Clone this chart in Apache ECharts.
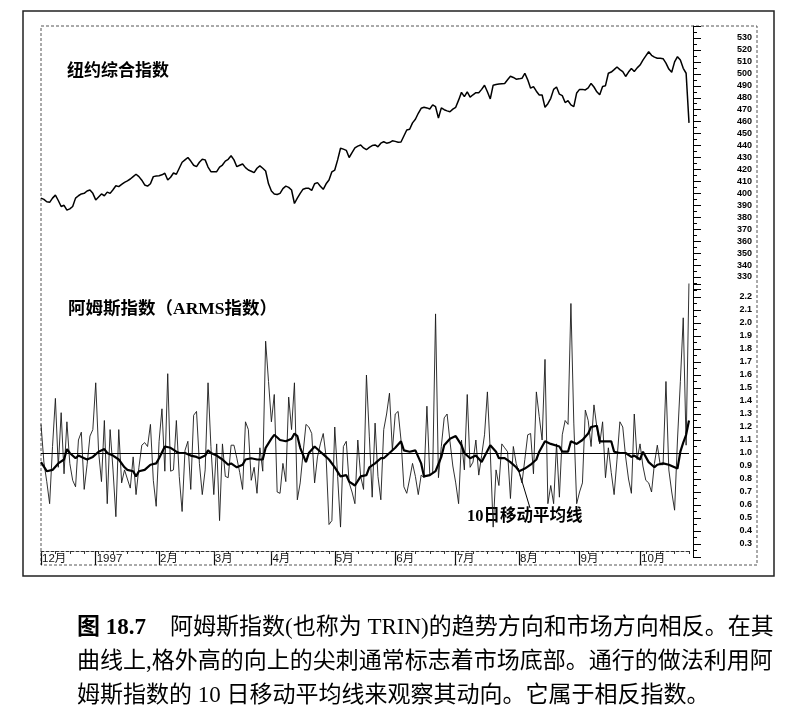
<!DOCTYPE html>
<html><head><meta charset="utf-8">
<script src="https://cdn.jsdelivr.net/npm/echarts@6/dist/echarts.min.js"></script>
<style>html,body{margin:0;padding:0;background:#fff;}#c{width:791px;height:721px;}</style>
</head><body><div id="c"></div>
<script>
// ---- data ----
const monthLabels = ['12月','1997','2月','3月','4月','5月','6月','7月','8月','9月','10月'];
const tradingDays = [19,22,19,20,22,21,21,22,21,21,18];

const nyseComposite = [
396,395,393,392.5,396,398.5,394,389,390,386,387,389,396,398,399.5,400,402,402.8,400,394.5,
397,399.5,398,401,400,403,406.4,405.6,407.5,409.2,410.5,412,414,416,414,411,407,406,408,414,
414.5,414.8,415.5,416.8,411.2,413.5,417,416,421,426,428,430,427,423.5,422.3,426,428.5,428,422,418.1,
418,418.1,422,423.7,427,428.5,431.5,428,422.3,423.5,424.6,421.5,419.5,418.5,417.3,421,423,421,418.7,408,
402,399.5,399,400,404,406,405,402.8,391.5,396,400,403.5,404.2,404.2,402.5,408,409,406,403.4,408,
411.2,418,419.5,428,437.7,437,436,430,434,438,439.5,440.5,438,436.5,438.5,440,440.5,439,442,443.2,
442,442.5,444,443.5,442.8,443,448,453,453.6,459,462,467,471.2,472,471.5,470.6,474,472.5,463,471.5,
470,469,468.3,470.5,472,478,484.5,481,485,480.5,482.5,484.2,484.2,487,490.5,485,479,490.5,491,491.5,
491.8,492,495,498,497,495.5,495.8,496.3,500.5,495,488,489.3,485.5,482.3,482.3,472,475,479.5,487,489,
483,481.8,476,477.5,474,472.5,484,487,487,486.5,488.2,492,489,485,482.5,489.5,490.1,500.5,501.5,503.5,
505.8,503.5,501.8,497.8,501.5,504.5,502,505,507.4,511.5,515,518.5,515.5,514,513,513,512.7,509,504,501.3,
510,514.4,511.6,504.6,500.5,459
];

const armsIndex = [
1.22,0.93,0.78,0.61,1.05,1.42,0.89,1.31,0.84,1.24,0.92,0.79,0.74,1.10,1.16,0.72,0.91,1.13,1.18,1.54,
1.01,0.78,1.25,0.61,1.18,0.87,0.51,1.18,0.77,0.87,0.80,0.73,0.97,0.68,0.89,1.06,1.08,1.05,1.22,0.79,
0.59,1.09,1.34,0.86,1.61,0.86,0.87,1.25,0.82,0.55,1.02,1.09,0.72,1.29,1.32,0.92,0.68,0.87,1.54,1.05,
0.68,1.07,0.48,1.07,0.82,0.81,1.06,1.06,0.96,0.85,0.72,1.24,1.18,0.79,0.89,0.69,1.04,0.86,1.86,1.55,
1.24,1.45,0.70,0.69,0.92,0.78,1.43,1.18,1.54,0.64,0.77,1.00,1.22,1.20,1.15,0.77,0.97,1.07,1.15,0.97,
0.45,0.48,1.20,0.82,0.43,1.05,1.09,0.77,0.70,0.61,1.10,0.82,0.72,1.60,1.13,0.66,1.23,0.82,0.64,1.18,
1.30,1.46,1.02,1.30,1.32,1.10,0.74,0.69,0.80,0.92,0.82,0.68,0.83,0.81,1.36,0.83,0.85,2.07,0.81,1.05,
1.27,1.30,1.09,0.90,0.77,0.61,1.10,0.87,1.45,0.89,0.93,1.10,0.83,0.98,1.14,1.47,1.01,0.43,0.87,0.75,
1.07,1.04,1.01,0.65,1.05,0.92,0.85,0.77,0.95,1.14,1.15,0.84,1.47,1.28,1.10,1.72,0.61,0.75,0.61,1.07,
0.66,1.14,1.25,1.22,2.15,1.23,0.61,0.70,0.77,1.33,1.25,1.05,1.37,1.20,1.07,1.24,0.81,1.04,0.85,0.68,
0.95,1.24,1.20,0.97,0.80,0.69,1.30,0.95,1.07,0.90,0.79,0.77,0.70,0.92,1.06,0.91,0.91,1.55,0.87,0.70,
0.56,1.10,1.55,2.04,1.06,2.33
];

// 10-day moving average: [day index, value]
const armsMA10 = [
[0,0.93],[2,0.86],[4,0.87],[6,0.92],[8,0.95],[9,1.03],[10,1.0],[12,0.96],[13,0.98],[15,0.96],[16,0.95],[18,0.97],
[20,1.01],[22,1.03],[23,1.0],[25,0.98],[27,0.95],[29,0.89],[30,0.87],[32,0.86],[33,0.82],[34,0.86],[36,0.87],[38,0.91],
[40,0.92],[41,0.96],[43,1.05],[45,1.04],[47,1.01],[48,1.0],[50,1.0],[52,0.98],[54,0.97],[55,0.96],[57,0.98],[58,1.02],
[59,1.0],[61,0.98],[63,0.95],[65,0.91],[66,0.92],[68,0.89],[70,0.91],[71,0.95],[73,0.96],[75,0.95],[77,0.95],[78,1.04],
[80,1.11],[81,1.14],[83,1.10],[85,1.09],[87,1.11],[88,1.15],[89,1.13],[90,1.04],[92,0.93],[93,1.0],[95,1.05],[97,1.01],
[99,0.97],[100,0.95],[102,0.89],[104,0.82],[106,0.83],[107,0.78],[109,0.75],[111,0.82],[113,0.83],[114,0.89],[116,0.92],
[118,0.96],[119,0.96],[121,1.0],[123,1.04],[125,1.09],[126,1.02],[128,1.01],[130,1.02],[132,0.92],[133,0.82],[135,0.83],
[137,0.86],[139,0.97],[140,1.06],[142,1.11],[144,1.13],[146,1.06],[147,1.0],[149,0.96],[151,0.98],[153,0.93],[156,1.06],
[158,1.01],[159,0.96],[161,0.96],[163,0.93],[165,0.89],[166,0.86],[168,0.88],[170,0.91],[172,0.95],[173,1.01],[175,1.09],
[177,1.07],[180,1.05],[181,1.01],[183,1.01],[184,1.09],[186,1.07],[188,1.10],[190,1.15],[191,1.20],[193,1.21],[194,1.09],
[196,1.09],[198,1.09],[199,1.01],[201,1.0],[203,1.0],[205,0.97],[206,0.98],[208,0.95],[209,1.01],[211,0.93],[213,0.89],
[214,0.91],[216,0.92],[218,0.91],[220,0.89],[221,0.88],[222,1.01],[223,1.08],[224,1.14],[225,1.25]
];

const nyseAxis = {min:320, max:540, step:10, firstLabel:330, lastLabel:530};
const armsAxis = {min:0.2, max:2.3, step:0.1, firstLabel:0.3, lastLabel:2.2};
const armsReference = 1.0;

const topTitle = '纽约综合指数';
const bottomTitle = '阿姆斯指数（ARMS指数）';
const maLabel = '10日移动平均线';
const captionHead = '图 18.7';
const captionLines = [
  '阿姆斯指数(也称为 TRIN)的趋势方向和市场方向相反。在其',
  '曲线上,格外高的向上的尖刺通常标志着市场底部。通行的做法利用阿',
  '姆斯指数的 10 日移动平均线来观察其动向。它属于相反指数。'
];

// ---- build ----
const categories = [];
monthLabels.forEach((m, k) => { for (let d = 0; d < tradingDays[k]; d++) categories.push(m + '|' + d); });
const isMonthStart = (i, v) => String(v).endsWith('|0');

const chart = echarts.init(document.getElementById('c'), null, {renderer: 'canvas'});
const axisFont = '"Liberation Sans","Noto Sans CJK SC"';
const cjk = '"Liberation Serif","Noto Sans CJK SC"';

function yAxisCfg(grid, ax, fmt) {
  return {
    gridIndex: grid, type: 'value', position: 'right', offset: 4,
    min: ax.min, max: ax.max, interval: ax.step,
    splitLine: {show: false},
    axisLine: {show: true, lineStyle: {color: '#000', width: 1}},
    axisTick: {show: true, length: 8, lineStyle: {color: '#000', width: 1}},
    minorTick: {show: true, splitNumber: 2, length: 4, lineStyle: {color: '#000', width: 1}},
    axisLabel: {
      align: 'right', margin: 59, fontSize: 9, fontWeight: 'bold', color: '#000',
      fontFamily: axisFont,
      formatter: v => (v < ax.firstLabel - ax.step / 2 || v > ax.lastLabel + ax.step / 2) ? '' : fmt(v)
    }
  };
}

const option = {
  animation: false,
  backgroundColor: '#fff',
  grid: [
    {left: 41, width: 648, top: 26.05, height: 262.9},
    {left: 41, width: 648, top: 284, height: 273}
  ],
  xAxis: [
    {gridIndex: 0, type: 'category', data: categories, boundaryGap: false, show: false},
    {gridIndex: 1, type: 'category', data: categories, boundaryGap: false, position: 'bottom', offset: -6,
      axisLine: {onZero: false, lineStyle: {color: '#333', width: 1, type: [3, 2]}},
      axisTick: {interval: isMonthStart, length: 14, lineStyle: {color: '#111', width: 1.2}},
      axisLabel: {interval: isMonthStart, formatter: v => v.split('|')[0], align: 'left', margin: 2,
        padding: [0, 0, 0, 1], fontSize: 11.5, color: '#111', fontFamily: axisFont}},
    {gridIndex: 1, type: 'category', data: categories, boundaryGap: false, position: 'bottom', offset: -6,
      axisLine: {show: false}, axisLabel: {show: false},
      axisTick: {interval: (i) => i % 5 === 0, length: 3, lineStyle: {color: '#333', width: 1}}}
  ],
  yAxis: [
    yAxisCfg(0, nyseAxis, v => String(Math.round(v))),
    yAxisCfg(1, armsAxis, v => v.toFixed(1))
  ],
  series: [
    {name: '纽约综合指数', type: 'line', xAxisIndex: 0, yAxisIndex: 0, data: nyseComposite,
      symbol: 'none', lineStyle: {color: '#000', width: 1.5}},
    {name: '阿姆斯指数', type: 'line', xAxisIndex: 1, yAxisIndex: 1, data: armsIndex,
      symbol: 'none', lineStyle: {color: '#1a1a1a', width: 0.9}},
    {name: maLabel, type: 'line', xAxisIndex: 1, yAxisIndex: 1, data: armsMA10, z: 5,
      symbol: 'none', lineStyle: {color: '#000', width: 2.2},
      markLine: {silent: true, symbol: 'none', label: {show: false},
        lineStyle: {color: '#000', width: 1, type: 'solid'}, data: [{yAxis: armsReference}]}}
  ],
  graphic: [
    {type: 'rect', shape: {x: 23, y: 11, width: 751, height: 565}, silent: true,
      style: {fill: 'none', stroke: '#222', lineWidth: 1.5}},
    {type: 'rect', shape: {x: 41, y: 26, width: 716, height: 539}, silent: true,
      style: {fill: 'none', stroke: '#555', lineWidth: 1, lineDash: [3, 2]}},
    {type: 'text', x: 67, y: 70, silent: true,
      style: {text: topTitle, font: 'bold 17px "Noto Sans CJK SC"', fill: '#000', verticalAlign: 'middle'}},
    {type: 'text', x: 68, y: 309, silent: true,
      style: {text: bottomTitle, font: 'bold 17.5px ' + cjk, fill: '#000', verticalAlign: 'middle'}},
    {type: 'text', x: 467, y: 517, silent: true,
      style: {text: maLabel, font: 'bold 16.5px ' + cjk, fill: '#000', verticalAlign: 'middle'}},
    {type: 'line', shape: {x1: 518, y1: 468, x2: 530, y2: 508}, silent: true,
      style: {stroke: '#000', lineWidth: 1}},
    {type: 'text', x: 77, y: 628, silent: true,
      style: {text: captionHead, font: 'bold 23px ' + cjk, fill: '#000', verticalAlign: 'middle'}},
    {type: 'text', x: 170, y: 628, silent: true,
      style: {text: captionLines[0], font: '23px ' + cjk, fill: '#000', verticalAlign: 'middle'}},
    {type: 'text', x: 77, y: 662, silent: true,
      style: {text: captionLines[1], font: '23px ' + cjk, fill: '#000', verticalAlign: 'middle'}},
    {type: 'text', x: 77, y: 696, silent: true,
      style: {text: captionLines[2], font: '23px ' + cjk, fill: '#000', verticalAlign: 'middle'}}
  ]
};
chart.setOption(option);
</script></body></html>
